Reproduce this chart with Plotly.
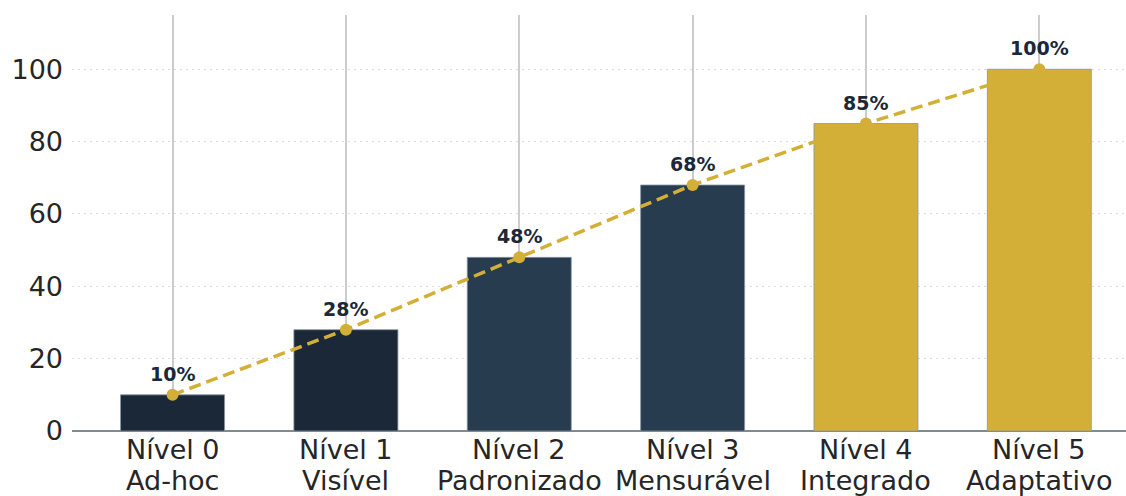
import plotly.graph_objects as go

levels = ["Nível 0", "Nível 1", "Nível 2", "Nível 3", "Nível 4", "Nível 5"]
names = ["Ad-hoc", "Visível", "Padronizado", "Mensurável", "Integrado", "Adaptativo"]
values = [10, 28, 48, 68, 85, 100]
bar_colors = ["#1a2837", "#1a2837", "#283c50", "#283c50", "#d4af37", "#d4af37"]
yticks = [0, 20, 40, 60, 80, 100]

x = list(range(len(levels)))
FONT = "DejaVu Sans"

fig = go.Figure()
fig.add_trace(go.Bar(
    x=x, y=values, width=0.6,
    marker=dict(color=bar_colors, line=dict(color="#8795a3", width=0.8)),
    showlegend=False, hoverinfo="skip",
))
fig.add_trace(go.Scatter(
    x=x, y=values, mode="lines+markers",
    line=dict(color="#d4af37", width=3.5, dash="12px,6px"),
    marker=dict(color="#d4af37", size=12),
    showlegend=False, hoverinfo="skip",
))
for xi, v in zip(x, values):
    fig.add_annotation(
        x=xi, y=v, text=f"<b>{v}%</b>", showarrow=False,
        yshift=21, yanchor="middle",
        font=dict(family=FONT, size=19, color="#1a2837"),
    )
for xi, a, b in zip(x, levels, names):
    fig.add_annotation(
        x=xi, y=0, text=a, showarrow=False, yanchor="middle", yshift=-18,
        font=dict(family=FONT, size=27, color="#262626"),
    )
    fig.add_annotation(
        x=xi, y=0, text=b, showarrow=False, yanchor="middle", yshift=-49,
        font=dict(family=FONT, size=27, color="#262626"),
    )

fig.update_layout(
    width=1126, height=496,
    margin=dict(l=72, r=0, t=15, b=65),
    paper_bgcolor="white", plot_bgcolor="white",
    font=dict(family=FONT, size=27, color="#262626"),
)
fig.update_xaxes(
    range=[-0.58, 5.5], tickvals=x, showticklabels=False,
    showgrid=True, gridcolor="#cccccc", gridwidth=2,
    showline=False, zeroline=False, ticks="",
)
fig.update_yaxes(
    range=[0, 115], tickvals=yticks,
    showgrid=True, gridcolor="#dcdcdc", gridwidth=1.2, griddash="2px,4px",
    zeroline=True, zerolinecolor="#7f8c8d", zerolinewidth=2,
    showline=False, ticks="", ticklabelstandoff=8,
    tickfont=dict(family=FONT, size=27, color="#262626"),
)
fig.write_html("out.html")
